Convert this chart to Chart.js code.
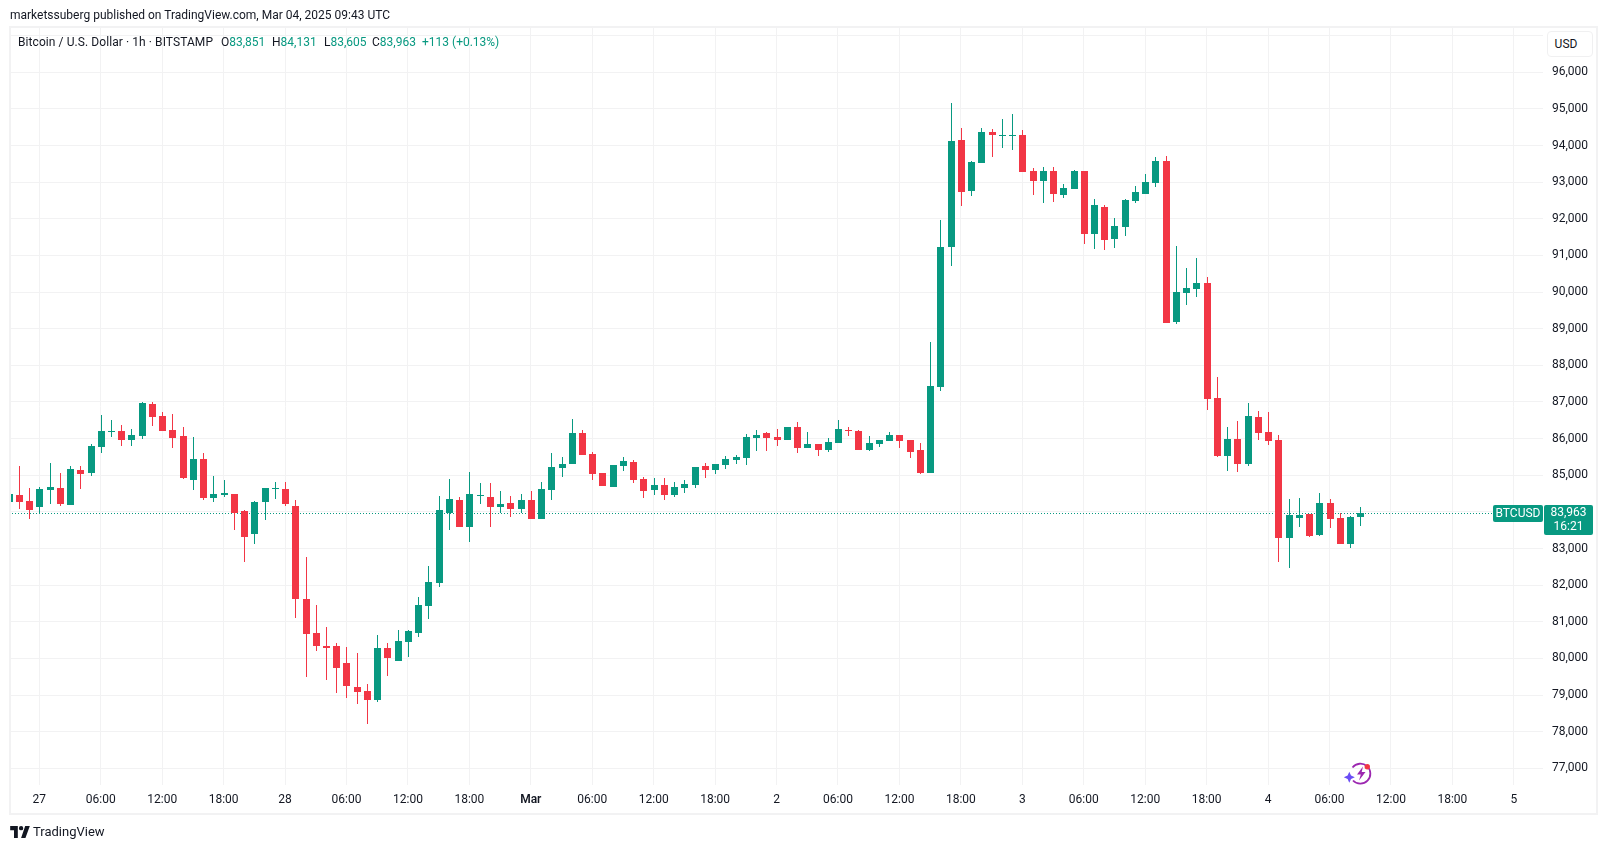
<!DOCTYPE html>
<html>
<head>
<meta charset="utf-8">
<title>BTCUSD</title>
<script src="https://cdn.jsdelivr.net/npm/chart.js@4/dist/chart.umd.min.js"></script>
<style>
html,body{margin:0;padding:0;background:#fff;overflow:hidden}
body{width:1607px;height:849px;position:relative;font-family:Roboto,sans-serif;color:#131722}
canvas{position:absolute;left:0;top:0}
.t{position:absolute;white-space:nowrap;font-size:12px;line-height:16px}
.g{color:#089981}
#frame{position:absolute;left:9px;top:26px;width:1585px;height:785px;border:2px solid #f2f2f3;pointer-events:none}
#usd{position:absolute;left:1547px;top:31px;width:36px;padding-right:8px;height:24px;border:1px solid #f0f0f1;border-radius:4px;background:#fff;text-align:center;font-size:12px;line-height:24px}
</style>
</head>
<body>
<canvas id="c" width="1607" height="849"></canvas>
<div id="frame"></div>
<div class="t" style="left:10px;top:7px">marketssuberg published on TradingView.com, Mar 04, 2025 09:43 UTC</div>
<div class="t" style="left:18px;top:34px;letter-spacing:0.08px">Bitcoin / U.S. Dollar · 1h · BITSTAMP</div>
<div class="t" style="left:221px;top:34px">O<span class="g">83,851</span></div>
<div class="t" style="left:272px;top:34px">H<span class="g">84,131</span></div>
<div class="t" style="left:324px;top:34px">L<span class="g">83,605</span></div>
<div class="t" style="left:372px;top:34px">C<span class="g">83,963</span></div>
<div class="t g" style="left:422px;top:34px">+113 (+0.13%)</div>
<div id="usd">USD</div>
<svg style="position:absolute;left:1342px;top:758px" width="36" height="30" viewBox="0 0 36 30">
  <path d="M10.500 9.500A10 10 0 1 1 11 22.500" fill="none" stroke="#9c27b0" stroke-width="1.8"/>
  <path d="M21 8.500l-6 8h3.800l-1.800 6 6.500-8.500h-3.800z" fill="#9c27b0"/>
  <path d="M7.300 13.800l1.700 3.800 3.800 1.700-3.800 1.700-1.700 3.800-1.700-3.800-3.800-1.700 3.800-1.700z" fill="#6a4df5"/>
  <circle cx="25.300" cy="8.700" r="2.700" fill="#f23645"/>
</svg>
<svg style="position:absolute;left:10px;top:826px" width="20" height="12" viewBox="0 0 36 22"><path d="M14 0H0v8h7v14h7zM28 22h-8l7.500-22H36zM20 0a4 4 0 1 0 0 8 4 4 0 0 0 0-8z" fill="#131722"/></svg>
<div class="t" style="left:33px;top:824px;font-size:13px">TradingView</div>
<script>
const hours = [-3,-2,-1,0,1,2,3,4,5,6,7,8,9,10,11,12,13,14,15,16,17,18,19,20,21,22,23,24,25,26,27,28,29,30,31,32,33,34,35,36,37,38,39,40,41,42,43,44,45,46,47,48,49,50,51,52,53,54,55,56,57,58,59,60,61,62,63,64,65,66,67,68,69,70,71,72,73,74,75,76,77,78,79,80,81,82,83,84,85,86,87,88,89,90,91,92,93,94,95,96,97,98,99,100,101,102,103,104,105,106,107,108,109,110,111,112,113,114,115,116,117,118,119,120,121,122,123,124,125,126,127,128,129];
const opens = [
84269,84461,84297,84133,84597,84652,84187,85143,85061,85771,
86181,86208,85962,86071,86945,86617,86235,86071,84870,85443,
84379,84461,84488,84024,83396,84269,84624,84624,84160,81621,
80693,80338,80338,79874,79219,79110,78864,80284,79929,80447,
80693,81430,82058,83969,84324,83587,84433,84406,84133,84242,
84078,84324,83805,84597,85198,85307,86153,85580,85061,84679,
85252,85361,84897,84597,84733,84461,84652,84733,85252,85143,
85279,85416,85471,86017,86153,86044,85962,86317,85744,85853,
85689,85880,86235,86208,85689,85853,85935,86098,85962,85689,
85061,87409,91231,94152,92760,93524,94370,94261,94261,94288,
93306,93033,93306,92650,92814,93306,91586,92323,91449,91777,
92487,92678,92978,93579,89183,89975,90084,90248,87109,85525,
85989,85307,86590,86180,85962,83287,83833,83942,83368,84242,
83833,83123,83851];
const highs = [
84488,85252,84652,84679,85334,85061,85252,85252,85853,86644,
86508,86371,86262,86999,86999,86726,86672,86317,86044,85607,
84979,84870,84488,84051,84297,84652,84815,84815,84324,82768,
81457,80857,80420,80311,80147,79301,80638,80420,80775,80775,
81676,82522,84433,84897,84406,85088,84788,84788,84570,84433,
84488,84570,84815,85607,85498,86535,86235,85634,85061,85279,
85498,85416,84952,84925,84925,84815,84870,85225,85334,85307,
85525,85553,86126,86235,86180,86262,86317,86453,86180,85853,
86017,86508,86317,86235,86071,85962,86180,86098,85962,85880,
88637,91968,95162,94480,93579,94480,94452,94725,94862,94425,
93388,93415,93415,92951,93333,93306,92541,92377,92023,92541,
92896,93224,93688,93715,91258,90658,90931,90412,87682,86317,
86481,86972,86754,86726,86098,84351,84379,83942,84515,84351,
83969,83887,84131];
const lows = [
84269,84078,83805,83942,84215,84160,84187,84624,84979,85607,
86044,85798,85798,85989,86344,86208,85744,84897,84597,84324,
84269,84406,83505,82631,83123,83778,84351,84160,81103,79492,
80202,79410,79055,78919,78755,78218,78809,79519,79929,80038,
80584,81075,81949,83505,83587,83177,84215,83587,83969,83860,
83969,83805,83805,84324,84952,85307,85552,84870,84706,84679,
85116,84788,84379,84461,84324,84406,84515,84652,84925,85034,
85170,85307,85279,85662,85662,85798,85962,85607,85744,85525,
85634,85880,86071,85689,85662,85771,85935,85744,85471,85034,
85061,87300,90712,92350,92623,93524,93688,93934,93879,93278,
92650,92432,92459,92569,92814,91313,91176,91149,91204,91531,
92432,92678,92869,89156,89129,89647,89866,86781,85498,85116,
85088,85252,85962,85825,82639,82473,83587,83314,83341,83560,
83123,83014,83605];
const closes = [
84488,84269,84051,84624,84679,84215,85170,85034,85798,86208,
86208,85962,86098,86972,86590,86208,86017,84925,85443,84379,
84488,84515,83969,83314,84269,84652,84652,84215,81621,80666,
80338,80284,79738,79246,79082,78864,80284,80011,80475,80748,
81457,82085,84051,84351,83587,84488,84460,84133,84215,84078,
84324,83805,84624,85225,85307,86153,85552,85034,84706,85279,
85389,84870,84570,84733,84461,84679,84761,85225,85143,85307,
85443,85498,86044,86098,86017,85962,86317,85744,85853,85689,
85907,86262,86208,85689,85880,85962,86098,85935,85634,85061,
87436,91231,94125,92732,93551,94370,94288,94288,94288,93278,
93033,93306,92678,92842,93306,91586,92377,91422,91804,92514,
92732,93005,93579,89156,90002,90112,90248,87081,85525,85989,
85307,86617,86153,85935,83287,83914,83914,83341,84242,83805,
83123,83860,83963];
const timeTicks = [0,6,12,18,24,30,36,42,48,54,60,66,72,78,84,90,96,102,108,114,120,126,132,138,144];
const timeLabels = ["27","06:00","12:00","18:00","28","06:00","12:00","18:00","Mar","06:00","12:00","18:00","2","06:00","12:00","18:00","3","06:00","12:00","18:00","4","06:00","12:00","18:00","5"];
const priceTicks = [77000,78000,79000,80000,81000,82000,83000,84000,85000,86000,87000,88000,89000,90000,91000,92000,93000,94000,95000,96000,97000];
const hiddenPriceLabel = 97000;
const lastPrice = 83963;
const priceTagName = "BTCUSD";
const priceTagValue = "83,963";
const priceTagTimer = "16:21";
const UP = "#089981", DOWN = "#F23645", GRID = "#f2f2f3", INK = "#131722";
const FONT = 'Roboto, sans-serif';
const candleColor = ctx => closes[ctx.dataIndex] >= opens[ctx.dataIndex] ? UP : DOWN;

const snap = {
  id: "snap",
  afterDatasetsUpdate(chart) {
    chart.getSortedVisibleDatasetMetas().forEach(meta => {
      meta.data.forEach(el => {
        if (meta.type === "bar") {
          el.x = Math.round(el.x) + 0.5;
          let a = Math.round(el.y), b = Math.round(el.base);
          if (a === b) b = a + 1;
          el.y = a; el.base = b;
        } else {
          el.x = Math.round(el.x);
          el.y = Math.round(el.y) + 0.5;
        }
      });
    });
  }
};
const tag = {
  id: "tag",
  afterDraw(chart) {
    const c = chart.ctx, y = Math.round(chart.scales.y.getPixelForValue(lastPrice));
    c.save();
    c.fillStyle = UP;
    c.beginPath(); c.roundRect(1493, y - 8, 50, 17, 2); c.fill();
    c.beginPath(); c.roundRect(1544, y - 8, 49, 30, 2); c.fill();
    c.fillStyle = "#fff";
    c.font = "12px " + FONT;
    c.textBaseline = "middle"; c.textAlign = "center";
    c.fillText(priceTagName, 1518, y + 0.5);
    c.fillText(priceTagValue, 1568.5, y);
    c.fillText(priceTagTimer, 1568.5, y + 14);
    c.restore();
  }
};

new Chart(document.getElementById("c"), {
  type: "bar",
  data: {
    datasets: [
      { type: "line", order: 3, data: [{x: -3, y: lastPrice}, {x: 141.96, y: lastPrice}],
        borderColor: UP, borderWidth: 1, borderDash: [1, 2], pointRadius: 0, tension: 0 },
      { order: 2, grouped: false, barThickness: 1, inflateAmount: 0, borderWidth: 0,
        data: hours.map((h, i) => ({x: h, y: [lows[i], highs[i]]})), backgroundColor: candleColor },
      { order: 1, grouped: false, barThickness: 7, inflateAmount: 0, borderWidth: 0,
        data: hours.map((h, i) => ({x: h, y: [opens[i], closes[i]]})), backgroundColor: candleColor }
    ]
  },
  options: {
    responsive: false,
    animation: false,
    events: [],
    layout: { padding: { left: 11, top: 28, right: 0, bottom: 0 } },
    plugins: { legend: { display: false }, tooltip: { enabled: false } },
    scales: {
      x: {
        type: "linear", offset: false, min: -2.764, max: 146.85,
        grid: { offset: false, color: GRID, drawTicks: false, lineWidth: 1 },
        border: { display: false },
        afterBuildTicks: s => { s.ticks = timeTicks.map(v => ({value: v})); },
        afterFit: s => { s.height = 64; },
        ticks: {
          autoSkip: false, maxRotation: 0, minRotation: 0, padding: 8, color: INK,
          font: ctx => ({ family: FONT, size: 12, weight: timeLabels[timeTicks.indexOf(ctx.tick && ctx.tick.value)] === "Mar" ? "600" : "400" }),
          callback: v => timeLabels[timeTicks.indexOf(v)]
        }
      },
      y: {
        position: "right", min: 76544, max: 97209,
        grid: { color: GRID, drawTicks: false, lineWidth: 1 },
        border: { display: false },
        afterBuildTicks: s => { s.ticks = priceTicks.map(v => ({value: v})); },
        afterFit: s => { s.width = 64; },
        ticks: {
          autoSkip: false, padding: 9, labelOffset: 0, color: INK, font: { family: FONT, size: 12 },
          callback: v => v === hiddenPriceLabel ? "" : v.toLocaleString("en-US")
        }
      }
    }
  },
  plugins: [snap, tag]
});
</script>
</body>
</html>
